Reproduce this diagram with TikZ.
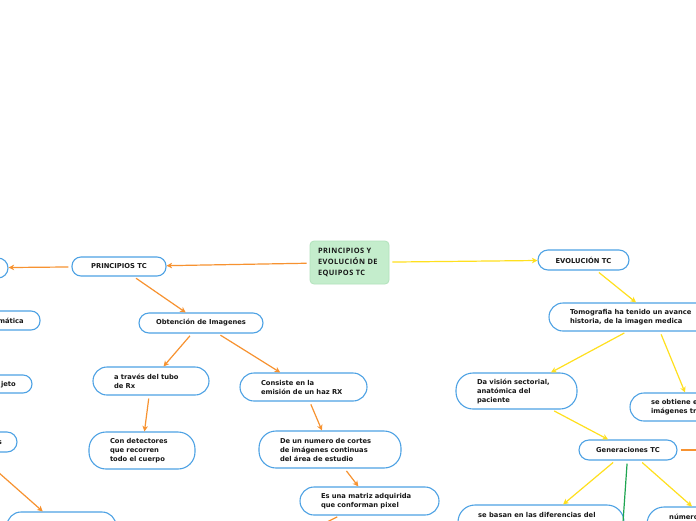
\documentclass[tikz,border=0pt]{standalone}
\usepackage{fontspec}
\newfontfamily\dvsans{DejaVu Sans}
\newfontfamily\opsans{Open Sans}[LetterSpace=6]
\usetikzlibrary{arrows.meta}
\definecolor{bl}{RGB}{78,162,228}
\definecolor{orng}{RGB}{247,146,48}
\definecolor{ylw}{RGB}{255,224,30}
\definecolor{grn}{RGB}{30,165,80}
\definecolor{cfill}{RGB}{196,237,204}
\definecolor{cline}{RGB}{178,226,188}
\definecolor{txt}{RGB}{24,24,24}
\newcommand\mmtxt{\dvsans\bfseries\fontsize{6.75}{9}\selectfont}
\newcommand\cntxt{\opsans\bfseries\fontsize{7.4}{11}\selectfont}
\tikzset{
 bx/.style={draw=bl, line width=1.1pt, fill=white, font=\mmtxt, text=txt, inner sep=0pt},
 one/.style n args={3}{bx, minimum width=#1, minimum height=#2, rounded corners=#3, align=center},
 multi/.style n args={3}{bx, text width=#1, minimum height=#2, rounded corners=#3, inner xsep=21pt, align=left},
 cn/.style={draw=cline, fill=cfill, line width=0.8pt, rounded corners=4pt, font=\cntxt, text=txt,
   text width=63pt, inner xsep=8pt, inner ysep=0pt, minimum height=43pt, align=left},
 lbl/.style={font=\mmtxt, text=txt, inner sep=0pt, anchor=base west},
 lble/.style={font=\mmtxt, text=txt, inner sep=0pt, anchor=base east},
 ar/.style={line width=1.2pt, shorten <=3pt, -{Stealth[length=5.5pt,width=5.5pt,inset=1.5pt]}},
 org/.style={ar, draw=orng},
 yel/.style={ar, draw=ylw},
 grnline/.style={line width=1.2pt, shorten <=3pt, draw=grn},
}
\begin{document}
\begin{tikzpicture}[x=1pt,y=-1pt]
\useasboundingbox (0,0) rectangle (696,520);
\clip (0,0) rectangle (696,520);
\fill[white] (0,0) rectangle (696,520);

% central
\node[cn] (c) at (349.5,262.5) {\mbox{PRINCIPIOS Y}\\\mbox{EVOLUCIÓN DE}\\\mbox{EQUIPOS TC}};

% left branch
\node[one={94pt}{19pt}{9pt}] (ptc) at (119,266.5) {PRINCIPIOS TC};
\node[one={100pt}{20pt}{10pt}] (la) at (-42,268) {};
\node[one={120pt}{19pt}{9pt}] (lb) at (-20,320.5) {};
\node[lble] (lbt) at (24,323) {mática};
\node[one={120pt}{18pt}{9pt}] (lc) at (-28,384) {};
\node[lble] (lct) at (16,386.5) {jeto};
\node[one={106pt}{20pt}{10pt}] (ld) at (-36,442) {};
\node[lble] (ldt) at (2,444.5) {s};
\node[one={109pt}{32pt}{14pt}] (le) at (61.5,528) {};
\node[one={124pt}{20pt}{10pt}] (obt) at (201,323) {Obtención de Imagenes};
\node[multi={74pt}{28pt}{14pt}] (tubo) at (151,381) {\mbox{a través del tubo}\\\mbox{de Rx}};
\node[multi={64pt}{37pt}{17pt}] (det) at (142,450.5) {\mbox{Con detectores}\\\mbox{que recorren}\\\mbox{todo el cuerpo}};
\node[multi={85pt}{28pt}{14pt}] (cons) at (303.5,387) {\mbox{Consiste en la}\\\mbox{emisión de un haz RX}};
\node[multi={100pt}{37pt}{17pt}] (numc) at (330,449.5) {\mbox{De un numero de cortes}\\\mbox{de imágenes continuas}\\\mbox{del área de estudio}};
\node[multi={97pt}{28pt}{14pt}] (mat) at (369.5,501) {\mbox{Es una matriz adquirida}\\\mbox{que conforman pixel}};
\coordinate (mout) at (223.5,573);

% right branch
\node[one={91pt}{20pt}{10pt}] (evol) at (583.5,260) {EVOLUCIÓN TC};
\node[multi={168pt}{28pt}{14pt}] (tom) at (654,317) {\mbox{Tomografia ha tenido un avance}\\\mbox{historia, de la imagen medica}};
\node[multi={79pt}{36pt}{17pt}] (vis) at (516.5,391) {\mbox{Da visión sectorial,}\\\mbox{anatómica del}\\\mbox{paciente}};
\node[multi={80pt}{28pt}{14pt}] (obti) at (691,407) {\mbox{se obtiene e}\\\mbox{imágenes tr}};
\node[one={98pt}{20pt}{10pt}] (gen) at (628,450) {Generaciones TC};
\node[one={166pt}{36pt}{17pt}] (basan) at (541,523) {};
\node[lbl] (basant) at (478,517.5) {se basan en las diferencias del};
\node[one={132pt}{36pt}{17pt}] (numr) at (713,525) {};
\node[lbl] (numrt) at (669,519.5) {número};
\coordinate (gout) at (619,580);
\coordinate (oout) at (760,450);

% connectors
\draw[org] (c) -- (ptc);
\draw[org] (ptc) -- (la);
\draw[org] (ptc) -- (obt);
\draw[org] (obt) -- (tubo);
\draw[org] (obt) -- (cons);
\draw[org] (tubo) -- (det);
\draw[org] (cons) -- (numc);
\draw[org] (numc) -- (mat);
\draw[org] (mat) -- (mout);
\draw[org] (ld) -- (le);
\draw[yel] (c) -- (evol);
\draw[yel] (evol) -- (tom);
\draw[yel] (tom) -- (vis);
\draw[yel] (tom) -- (obti);
\draw[yel] (vis) -- (gen);
\draw[yel] (gen) -- (basan);
\draw[yel] (gen) -- (numr);
\draw[grnline] (gen) -- (gout);
\draw[org,-] (gen) -- (oout);
\end{tikzpicture}
\end{document}
